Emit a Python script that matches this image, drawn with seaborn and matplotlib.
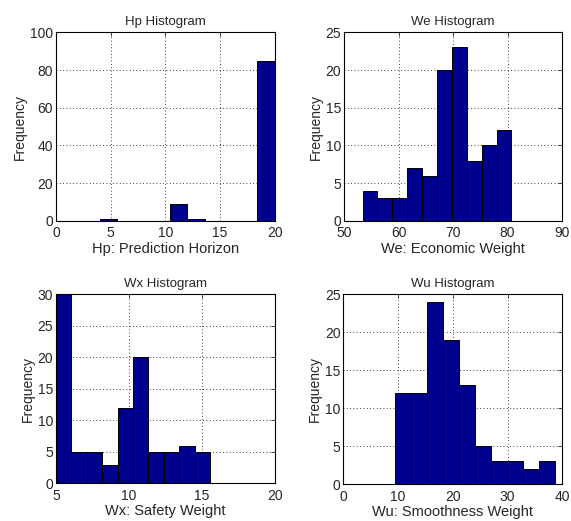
import numpy as np
import pandas as pd
import matplotlib
matplotlib.use("Agg")
import matplotlib.pyplot as plt
import seaborn as sns

# histogram counts per bin (10 bins each, MATLAB hist style)
hp_counts = [1, 0, 0, 0, 9, 1, 0, 0, 0, 85]
hp_range = (4.0, 20.0)

we_counts = [4, 3, 3, 7, 6, 20, 23, 8, 10, 12]
we_range = (53.4, 80.7)

wx_counts = [30, 5, 5, 3, 12, 20, 5, 5, 6, 5]
wx_range = (5.0, 15.57)

wu_counts = [12, 12, 24, 19, 13, 5, 3, 3, 2, 3]
wu_range = (9.5, 38.66)

bar_color = "#00008f"


def histPanel(ax, counts, rng, title, xlabel, xticks, yticks):
    """
        Draws one MATLAB-like histogram panel from bin counts.
    """
    edges = np.linspace(rng[0], rng[1], len(counts) + 1)
    df = pd.DataFrame({'value': (edges[:-1] + edges[1:]) / 2,
                       'count': counts})
    sns.histplot(data = df, x = 'value', weights = 'count',
                 bins = list(edges), ax = ax,
                 color = bar_color, edgecolor = "black", linewidth = 0.7,
                 alpha = 1.0, zorder = 2)
    ax.set_xlim(xticks[0], xticks[-1])
    ax.set_ylim(yticks[0], yticks[-1])
    ax.set_xticks(xticks)
    ax.set_yticks(yticks)
    ax.set_title(title, fontsize = 9.5, pad = 5)
    ax.set_xlabel(xlabel, fontsize = 10.5, labelpad = 1)
    ax.set_ylabel("Frequency", fontsize = 10, labelpad = 2)

    # dotted grid and boxed axes
    ax.grid(True, linestyle = (0, (1, 3)), color = "black", linewidth = 0.6,
            zorder = 0)
    ax.set_axisbelow(True)
    ax.tick_params(direction = "in", top = True, right = True, length = 3,
                   labelsize = 10, width = 0.6)
    ax.tick_params(axis = "x", pad = 4)
    ax.tick_params(axis = "y", pad = 2)
    for spine in ax.spines.values():
        spine.set_visible(True)
        spine.set_color("black")
        spine.set_linewidth(0.8)


sns.set_style("white")
plt.rcParams['font.family'] = ['Liberation Sans', 'DejaVu Sans']

fig = plt.figure(figsize = (5.71, 5.21), dpi = 100)
ax1 = fig.add_axes([0.098, 0.576, 0.383, 0.362])
ax2 = fig.add_axes([0.6025, 0.576, 0.382, 0.362])
ax3 = fig.add_axes([0.098, 0.072, 0.383, 0.363])
ax4 = fig.add_axes([0.6013, 0.071, 0.3835, 0.364])

histPanel(ax1, hp_counts, hp_range, "Hp Histogram", "Hp: Prediction Horizon",
          [0, 5, 10, 15, 20], [0, 20, 40, 60, 80, 100])
histPanel(ax2, we_counts, we_range, "We Histogram", "We: Economic Weight",
          [50, 60, 70, 80, 90], [0, 5, 10, 15, 20, 25])
histPanel(ax3, wx_counts, wx_range, "Wx Histogram", "Wx: Safety Weight",
          [5, 10, 15, 20], [0, 5, 10, 15, 20, 25, 30])
histPanel(ax4, wu_counts, wu_range, "Wu Histogram", "Wu: Smoothness Weight",
          [0, 10, 20, 30, 40], [0, 5, 10, 15, 20, 25])

fig.savefig("out.png", dpi = 100)
